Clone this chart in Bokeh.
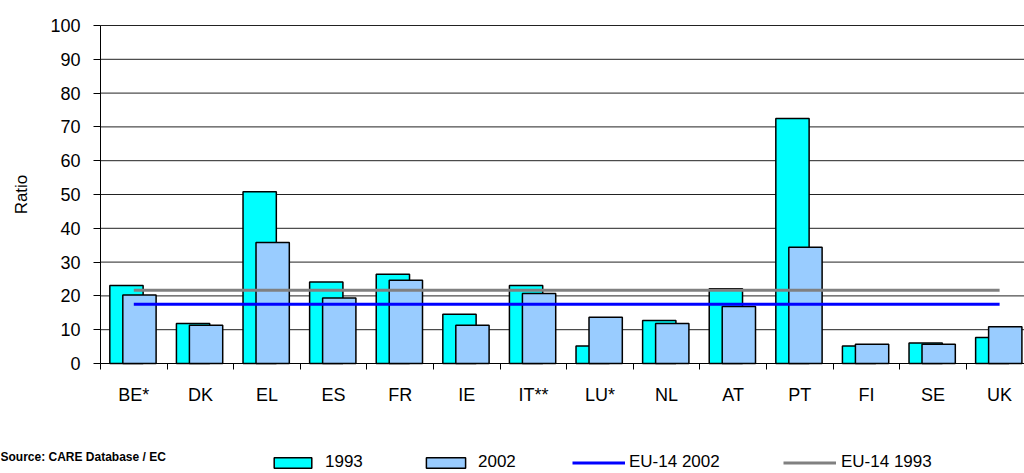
import numpy as np
from bokeh.plotting import figure
from bokeh.models import (Range1d, FixedTicker, Legend, LegendItem, Label,
                          ColumnDataSource, LinearAxis)
from bokeh.embed import file_html
from bokeh.resources import INLINE

# ---- data ----
countries = ["BE*", "DK", "EL", "ES", "FR", "IE", "IT**", "LU*", "NL", "AT",
             "PT", "FI", "SE", "UK"]
ratio_1993 = [23.1, 11.8, 50.8, 24.1, 26.4, 14.6, 23.1, 5.2, 12.7, 22.1,
              72.5, 5.2, 6.1, 7.7]
ratio_2002 = [20.3, 11.3, 35.8, 19.4, 24.6, 11.3, 20.7, 13.7, 11.8, 16.9,
              34.4, 5.7, 5.7, 10.9]
eu14_2002 = 17.5
eu14_1993 = 21.7
y_ticks = [0, 10, 20, 30, 40, 50, 60, 70, 80, 90, 100]
series_labels = ["1993", "2002", "EU-14 2002", "EU-14 1993"]
y_title = "Ratio"
source_note = "Source: CARE Database / EC"

FONT = "Liberation Sans"
C93, C02, CEU02, CEU93 = "#00FFFF", "#99CCFF", "#0000FF", "#808080"
n = len(countries)
idx = np.arange(n)

# layout geometry (pixels): the frame covers the whole canvas, axes are
# pinned at x=-0.5 / y=0 so that legend and source note can sit anywhere
W, H = 1024, 473
AX_LEFT, AX_BOTTOM, AX_TOP = 100, 363, 25
CAT_PX = 66.6
x_lo = -0.5 - AX_LEFT / CAT_PX
x_hi = -0.5 + (W - AX_LEFT) / CAT_PX
y_px = (AX_BOTTOM - AX_TOP) / 100.0
y_hi = 100 + AX_TOP / y_px
y_lo = -(H - AX_BOTTOM) / y_px

src = ColumnDataSource(dict(x93=idx - 0.11, x02=idx + 0.085,
                            v93=ratio_1993, v02=ratio_2002))

p = figure(width=W, height=H, output_backend="svg", toolbar_location=None,
           x_range=Range1d(x_lo, x_hi), y_range=Range1d(y_lo, y_hi),
           x_axis_type=None, y_axis_type=None,
           min_border_left=0, min_border_right=0, min_border_top=0,
           min_border_bottom=0)
p.outline_line_color = None
p.background_fill_color = "white"
p.border_fill_color = "white"
p.xgrid.visible = False
p.ygrid.visible = False

# horizontal grid lines from the y axis to the right edge
p.segment(x0=[-0.5] * len(y_ticks), x1=[x_hi] * len(y_ticks),
          y0=y_ticks, y1=y_ticks, line_color="#222222", line_width=1,
          level="underlay")

# y axis pinned at the left category boundary
yax = LinearAxis(fixed_location=-0.5, bounds=(0, 100),
                 ticker=FixedTicker(ticks=y_ticks))
yax.axis_line_color = "black"
yax.major_tick_line_color = "black"
yax.major_tick_out = 7
yax.major_tick_in = 0
yax.minor_tick_line_color = None
yax.major_label_standoff = 13
yax.major_label_text_font = FONT
yax.major_label_text_font_size = "18px"
yax.major_label_text_color = "black"
yax.axis_label = y_title
yax.axis_label_text_font = FONT
yax.axis_label_text_font_size = "17px"
yax.axis_label_text_font_style = "normal"
yax.axis_label_text_color = "black"
yax.axis_label_standoff = 16
p.add_layout(yax, "left")

# x axis pinned at y=0: labels at centres, tick marks at category boundaries
xax = LinearAxis(fixed_location=0, bounds=(-0.5, x_hi),
                 ticker=FixedTicker(ticks=[int(i) for i in idx],
                                    minor_ticks=[i - 0.5 for i in range(n + 1)]))
xax.major_label_overrides = {int(i): c for i, c in zip(idx, countries)}
xax.axis_line_color = "black"
xax.major_tick_out = 0
xax.major_tick_in = 0
xax.minor_tick_out = 6
xax.minor_tick_in = 0
xax.minor_tick_line_color = "black"
xax.major_label_standoff = 15
xax.major_label_text_font = FONT
xax.major_label_text_font_size = "18px"
xax.major_label_text_color = "black"
p.add_layout(xax, "below")

# bars
r93 = p.vbar(x="x93", top="v93", width=0.5, bottom=0, source=src,
             fill_color=C93, line_color="black", line_width=1.5)
r02 = p.vbar(x="x02", top="v02", width=0.5, bottom=0, source=src,
             fill_color=C02, line_color="black", line_width=1.5)

# EU-14 average lines from first to last category centre
reu02 = p.line(x=[idx[0], idx[-1]], y=[eu14_2002, eu14_2002],
               line_color=CEU02, line_width=3)
reu93 = p.line(x=[idx[0], idx[-1]], y=[eu14_1993, eu14_1993],
               line_color=CEU93, line_width=3)


def add_leg(label, rend, x, gw, standoff):
    lg = Legend(items=[LegendItem(label=label, renderers=[rend])],
                location=(x, 1), orientation="horizontal",
                glyph_width=gw, glyph_height=13, label_standoff=standoff,
                padding=0, margin=0, border_line_alpha=0,
                background_fill_alpha=0, label_text_font=FONT,
                label_text_font_size="17px", label_text_color="black")
    p.add_layout(lg)


add_leg(series_labels[0], r93, 269, 47, 9)
add_leg(series_labels[1], r02, 421, 49, 8)
add_leg(series_labels[2], reu02, 572, 53, 4)
add_leg(series_labels[3], reu93, 783, 53, 5)

p.add_layout(Label(x=0, y=17, x_units="screen", y_units="screen",
                   text=source_note, text_font=FONT, text_font_size="12px",
                   text_font_style="bold", text_color="black",
                   text_baseline="middle", text_align="left"))

open("out.html", "w").write(file_html(p, INLINE))
